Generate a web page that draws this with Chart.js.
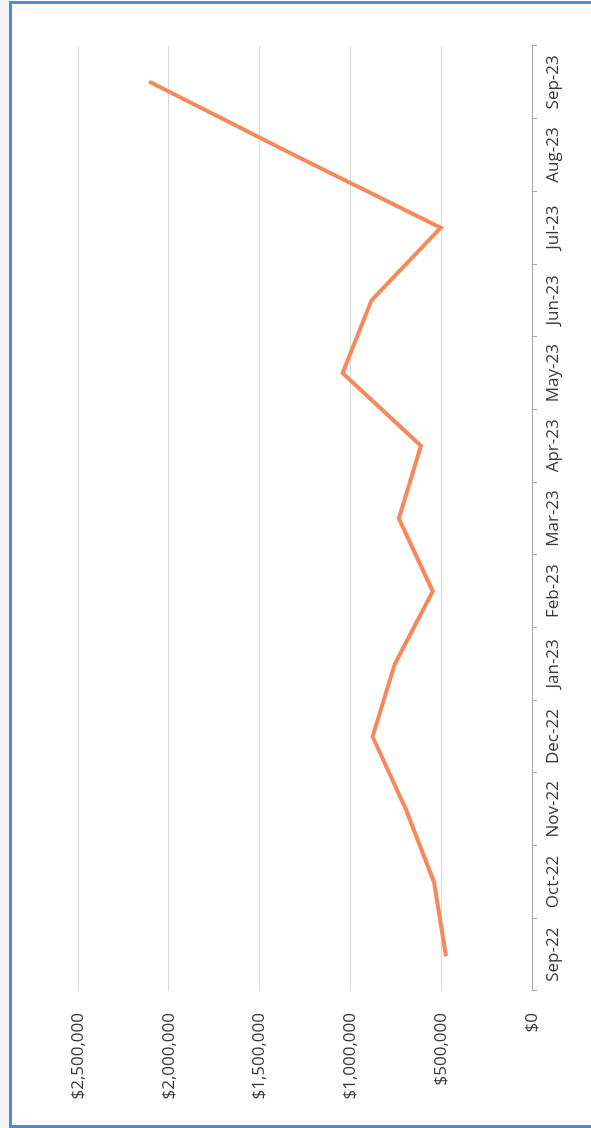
<!DOCTYPE html>
<html>
<head>
<meta charset="utf-8">
<title>Monthly totals</title>
<script src="https://cdn.jsdelivr.net/npm/chart.js@4/dist/chart.umd.min.js"></script>
<style>
  html, body {
    margin: 0;
    padding: 0;
    background: #ffffff;
    width: 591px;
    height: 1128px;
    overflow: hidden;
  }
  /* light strip left of the frame */
  .strip {
    position: absolute;
    left: 0;
    top: 0;
    width: 9px;
    height: 1128px;
    background: #f3f3f3;
  }
  /* the chart is laid out landscape and turned a quarter turn */
  .chart-box {
    position: absolute;
    left: 0;
    top: 0;
    width: 1128px;
    height: 591px;
    transform-origin: 0 0;
    transform: translate(0, 1128px) rotate(-90deg);
  }
  .frame {
    position: absolute;
    left: 9px;
    top: 1px;
    width: 700px;
    height: 1127px;
    box-sizing: border-box;
    border-left: 3px solid #4f8ad8;
    border-top: 3px solid #4f8ad8;
    border-bottom: 3px solid #4f8ad8;
    border-right: none;
    pointer-events: none;
  }
</style>
</head>
<body>
<div class="strip"></div>
<div class="chart-box">
  <canvas id="sales-chart" width="1128" height="591"></canvas>
</div>
<div class="frame"></div>

<script>
// Monthly values, Sep-22 .. Sep-23
const months = ['Sep-22', 'Oct-22', 'Nov-22', 'Dec-22', 'Jan-23', 'Feb-23', 'Mar-23',
  'Apr-23', 'May-23', 'Jun-23', 'Jul-23', 'Aug-23', 'Sep-23'];
const totals = [475000, 540000, 695000, 878000, 755000, 547000, 733000,
  612000, 1043000, 884000, 503000, 1310000, 2100000];

// value axis ticks
const valueMin = 0;
const valueMax = 2500000;
const valueStep = 500000;

const lineColor = '#f5895c';
const textColor = '#3a3a3a';
const gridColor = '#d9d9d9';
const axisColor = '#a6a6a6';
const labelFont = { family: "'Open Sans', 'DejaVu Sans', sans-serif", size: 17 };

function money(v) {
  return '$' + Number(v).toLocaleString('en-US');
}

const ctx = document.getElementById('sales-chart').getContext('2d');

new Chart(ctx, {
  type: 'line',
  data: {
    labels: months,
    datasets: [{
      label: 'Total',
      data: totals,
      borderColor: lineColor,
      backgroundColor: lineColor,
      borderWidth: 4,
      borderCapStyle: 'round',
      borderJoinStyle: 'miter',
      pointRadius: 0,
      tension: 0,
      fill: false
    }]
  },
  options: {
    responsive: false,
    animation: false,
    layout: {
      padding: { left: 10, right: 46, top: 78, bottom: 0 }
    },
    plugins: {
      legend: { display: false },
      tooltip: { enabled: false },
      title: { display: false }
    },
    scales: {
      x: {
        type: 'category',
        offset: true,
        afterFit: (scale) => { scale.height = 59; },
        grid: {
          offset: true,
          drawOnChartArea: false,
          drawTicks: true,
          tickLength: 5,
          color: axisColor
        },
        border: { display: true, color: axisColor, width: 1 },
        ticks: {
          color: textColor,
          font: labelFont,
          padding: 6,
          maxRotation: 0,
          autoSkip: false
        }
      },
      y: {
        min: valueMin,
        max: valueMax,
        afterFit: (scale) => { scale.width = 127; },
        grid: {
          color: gridColor,
          lineWidth: 1,
          drawTicks: false
        },
        border: { display: false },
        ticks: {
          stepSize: valueStep,
          color: textColor,
          font: labelFont,
          padding: 22,
          callback: (v) => money(v)
        }
      }
    }
  }
});
</script>
</body>
</html>
